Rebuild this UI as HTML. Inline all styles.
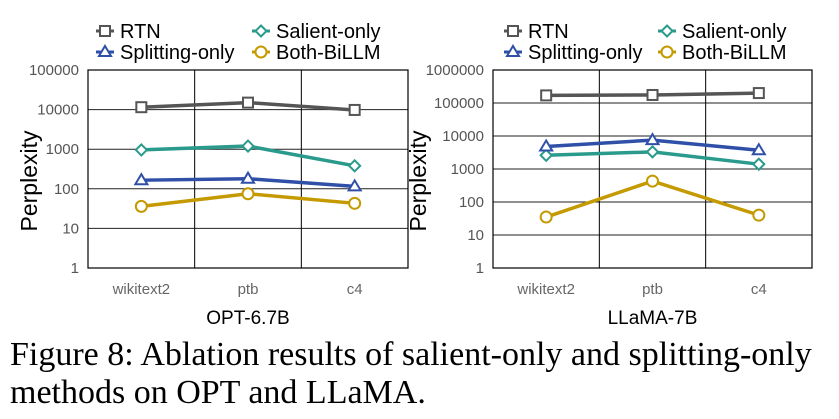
<!DOCTYPE html>
<html><head><meta charset="utf-8"><style>
body{margin:0;background:#fff;width:839px;height:419px;overflow:hidden;position:relative}
svg text{font-family:"Liberation Sans",sans-serif}
.cap{position:absolute;left:10px;top:336px;font-family:"Liberation Serif",serif;font-size:34px;line-height:38px;color:#000;width:835px;white-space:nowrap}
</style></head><body>
<svg id="chart" width="839" height="330" style="position:absolute;left:0;top:0"></svg>
<div class="cap">Figure 8: Ablation results of salient-only and splitting-only<br>methods on OPT and LLaMA.</div>
<script>
const categories=["wikitext2","ptb","c4"];
const seriesNames=["RTN","Salient-only","Splitting-only","Both-BiLLM"];
const optRTN=[11500,15000,9800];
const optSalient=[960,1200,380];
const optSplitting=[165,180,115];
const optBoth=[36,75,43];
const llamaRTN=[170000,175000,200000];
const llamaSalient=[2600,3300,1400];
const llamaSplitting=[4800,7500,3700];
const llamaBoth=[35,430,40];
const optTicks=["1","10","100","1000","10000","100000"];
const llamaTicks=["1","10","100","1000","10000","100000","1000000"];

const NS="http://www.w3.org/2000/svg";
const svg=document.getElementById('chart');
function mk(t,a,p){const e=document.createElementNS(NS,t);for(const k in a)e.setAttribute(k,a[k]);(p||svg).appendChild(e);return e;}
const colors=["#555555","#2a9a8c","#3050a8","#c49a00"];
const markers=["square","diamond","triangle","circle"];
function marker(g,type,x,y,c){
  if(type==="square")return mk('rect',{x:x-5,y:y-5,width:10,height:10,fill:'#fff',stroke:c,'stroke-width':2},g);
  if(type==="diamond")return mk('polygon',{points:`${x},${y-5.5} ${x+5.5},${y} ${x},${y+5.5} ${x-5.5},${y}`,fill:'#fff',stroke:c,'stroke-width':2},g);
  if(type==="triangle")return mk('polygon',{points:`${x},${y-6} ${x+6},${y+4} ${x-6},${y+4}`,fill:'#fff',stroke:c,'stroke-width':2},g);
  return mk('circle',{cx:x,cy:y,r:5.5,fill:'#fff',stroke:c,'stroke-width':2},g);
}
function drawChart(o){
  const g=mk('g',{});
  
  
  const nd=o.ticks.length-1;
  const ys=v=>o.y1-(Math.log10(v))/nd*(o.y1-o.y0);
  const bw=(o.x1-o.x0)/categories.length;
  const xs=i=>o.x0+bw*(i+0.5);
  o.ticks.forEach((t,i)=>{
    const y=ys(Math.pow(10,i));
    if(i>0&&i<nd){const l=mk('line',{x1:o.x0,x2:o.x1,y1:y,y2:y,stroke:'#222','stroke-width':1},g);}
    const tx=mk('text',{x:o.x0-9,y:y+5,'text-anchor':'end','font-size':15,fill:'#555'},g);tx.textContent=t;
    
  });
  for(let i=1;i<categories.length;i++){const x=o.x0+bw*i;mk('line',{x1:x,x2:x,y1:o.y0,y2:o.y1,stroke:'#000','stroke-width':1},g);}
  const bx=mk('rect',{x:o.x0,y:o.y0,width:o.x1-o.x0,height:o.y1-o.y0,fill:'none',stroke:'#000','stroke-width':1.2},g);
  
  categories.forEach((c,i)=>{const t=mk('text',{x:xs(i),y:o.y1+26,'text-anchor':'middle','font-size':15,fill:'#666'},g);t.textContent=c;
    });
  const ti=mk('text',{x:(o.x0+o.x1)/2,y:o.y1+56,'text-anchor':'middle','font-size':19,fill:'#000'},g);ti.textContent=o.title;
  
  const yt=mk('text',{x:0,y:0,'text-anchor':'middle','font-size':23,fill:'#000',transform:`translate(${o.ytx},${(o.y0+o.y1)/2+12}) rotate(-90)`},g);yt.textContent="Perplexity";
  
  o.data.forEach((vals,s)=>{
    const pts=vals.map((v,i)=>xs(i)+','+ys(v)).join(' ');
    const pl=mk('polyline',{points:pts,fill:'none',stroke:colors[s],'stroke-width':3.5},g);
    
    vals.forEach((v,i)=>{const m=marker(g,markers[s],xs(i),ys(v),colors[s]);
      });
  });
  const pos=[[o.lx,31],[o.lx2,31],[o.lx,52],[o.lx2,52]];
  seriesNames.forEach((n,s)=>{
    const lg=mk('g',{},g);
    const [x,y]=pos[s];
    mk('line',{x1:x,x2:x+18,y1:y,y2:y,stroke:colors[s],'stroke-width':3},lg);
    marker(lg,markers[s],x+9,y,colors[s]);
    const t=mk('text',{x:x+24,y:y+7,'font-size':20,fill:'#000'},lg);t.textContent=n;
  });
}
drawChart({name:'opt-chart',x0:88,x1:408,y0:70,y1:268,ticks:optTicks,title:'OPT-6.7B',ytx:37,lx:96,lx2:252,
  data:[optRTN,optSalient,optSplitting,optBoth]});
drawChart({name:'llama-chart',x0:493,x1:812,y0:70,y1:268,ticks:llamaTicks,title:'LLaMA-7B',ytx:426,lx:504,lx2:658,
  data:[llamaRTN,llamaSalient,llamaSplitting,llamaBoth]});
</script>
</body></html>
